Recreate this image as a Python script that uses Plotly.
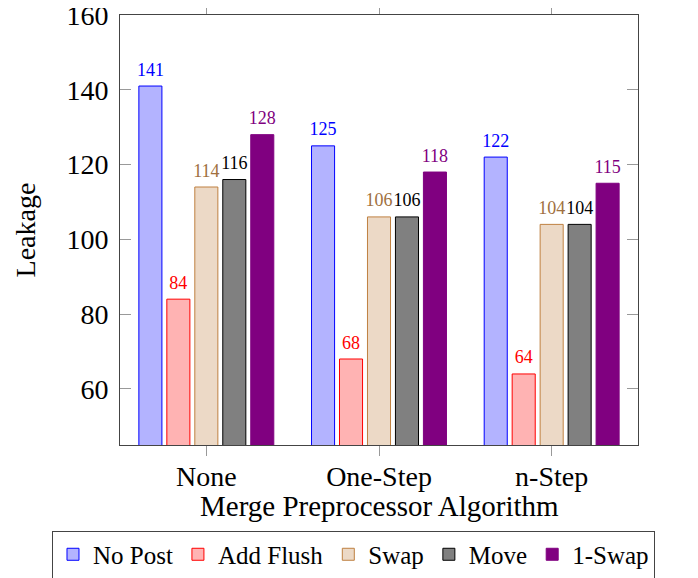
import plotly.graph_objects as go

# data
categories = ["None", "One-Step", "n-Step"]
series_names = ["No Post", "Add Flush", "Swap", "Move", "1-Swap"]
no_post = [141, 125, 122]
add_flush = [84, 68, 64]
swap = [114, 106, 104]
move = [116, 106, 104]
one_swap = [128, 118, 115]

values = [no_post, add_flush, swap, move, one_swap]
fills = ["#b3b3ff", "#ffb3b3", "#ecd9c6", "#808080", "#800080"]
lines = ["#0000ff", "#ff0000", "#bf8040", "#000000", "#800080"]
text_colors = ["#0000ff", "#ff0000", "#a07040", "#000000", "#800080"]

font = "Liberation Serif"

fig = go.Figure()
for name, vals, fc, lc in zip(series_names, values, fills, lines):
    fig.add_trace(go.Bar(
        x=categories, y=vals, name=name,
        marker=dict(color=fc, line=dict(color=lc, width=1)),
    ))

# value labels: grouped scatter text so they sit a little above each bar
for name, vals, tc in zip(series_names, values, text_colors):
    fig.add_trace(go.Scatter(
        x=categories, y=vals, mode="markers+text",
        marker=dict(size=8, opacity=0),
        text=[str(v) for v in vals],
        textposition="top center",
        textfont=dict(color=tc, size=18, family=font),
        showlegend=False, hoverinfo="skip", cliponaxis=False,
    ))

# the page has an 8px body margin, so the figure is a bit smaller than the window
fig.update_layout(
    width=690, height=570,
    margin=dict(l=112, r=60, t=7, b=133, autoexpand=False),
    barmode="group",
    bargap=0.19,
    bargroupgap=0.176,
    scattermode="group",
    scattergap=0.19,
    plot_bgcolor="white",
    paper_bgcolor="white",
    font=dict(family=font, size=28, color="black"),
    showlegend=True,
    legend=dict(
        orientation="h",
        x=-0.1313, xanchor="left",
        y=-0.2547, yanchor="middle",
        bordercolor="#444444", borderwidth=1,
        font=dict(size=25, family=font),
        itemwidth=30,
    ),
    annotations=[dict(
        text="Merge Preprocessor Algorithm",
        xref="paper", yref="paper", x=0.5, y=-0.142,
        xanchor="center", yanchor="middle",
        showarrow=False, font=dict(size=29, family=font),
    )],
)

fig.update_xaxes(
    automargin=False,
    showline=True, linecolor="#444444", linewidth=1, mirror="ticks",
    ticks="outside", ticklen=10, tickcolor="#999999",
    ticklabelstandoff=-4,
    tickfont=dict(size=28),
    range=[-0.5, 2.5],
)
fig.update_yaxes(
    automargin=False,
    range=[45, 160],
    tickvals=[60, 80, 100, 120, 140, 160],
    showline=True, linecolor="#444444", linewidth=1, mirror="ticks",
    ticks="inside", ticklen=11, tickcolor="#999999",
    ticklabeloverflow="allow", ticklabelstandoff=5,
    showgrid=False, zeroline=False,
    tickfont=dict(size=28),
    title=dict(text="Leakage", font=dict(size=28), standoff=22),
)

fig.write_html("out.html")
